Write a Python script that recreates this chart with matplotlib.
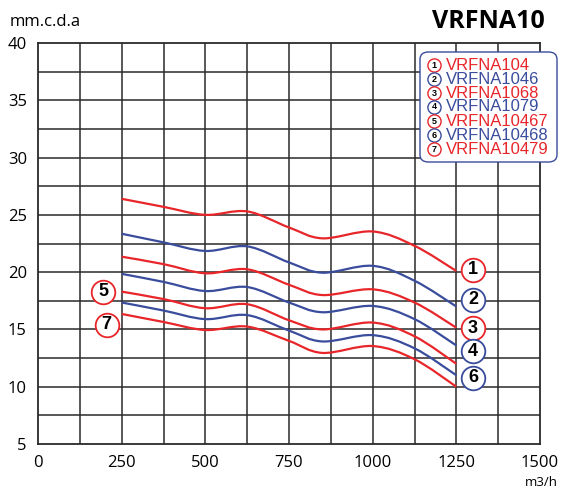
import numpy as np
import matplotlib
matplotlib.use('Agg')
import matplotlib.pyplot as plt
from matplotlib.path import Path
from matplotlib.patches import PathPatch, FancyBboxPatch
from matplotlib.lines import Line2D

# data
flow = [250, 375, 500, 625, 750, 850, 1000, 1125, 1250]
c1 = [26.4, 25.7, 25.0, 25.3, 23.9, 22.95, 23.55, 22.3, 20.1]
c2 = [23.35, 22.6, 21.85, 22.25, 20.85, 19.95, 20.55, 19.25, 17.0]
c3 = [21.35, 20.7, 19.9, 20.25, 18.9, 18.0, 18.5, 17.35, 15.15]
c4 = [19.85, 19.15, 18.35, 18.7, 17.35, 16.5, 17.05, 15.9, 13.6]
c5 = [18.3, 17.65, 16.85, 17.2, 15.8, 15.0, 15.6, 14.4, 12.0]
c6 = [17.35, 16.65, 15.9, 16.25, 14.9, 13.95, 14.5, 13.35, 11.0]
c7 = [16.35, 15.65, 14.95, 15.25, 14.0, 12.95, 13.55, 12.4, 10.0]
curves = [c1, c2, c3, c4, c5, c6, c7]

models = ['VRFNA104', 'VRFNA1046', 'VRFNA1068', 'VRFNA1079',
          'VRFNA10467', 'VRFNA10468', 'VRFNA10479']
tag_nums = ['1', '2', '3', '4', '6', '5', '7']
tag_x = [1300, 1300, 1300, 1300, 1300, 195, 205]
tag_y = [20.2, 17.6, 15.1, 13.1, 10.8, 18.3, 15.4]

RED = '#e8262a'
BLUE = '#3a4c9c'
colors = [RED if i % 2 == 0 else BLUE for i in range(7)]


def smooth_path(xs, ys):
    # Catmull-Rom through the read points, drawn as cubic Bezier segments
    pts = np.column_stack([xs, ys]).astype(float)
    ext = np.vstack([pts[0], pts, pts[-1]])
    verts = [pts[0]]
    codes = [Path.MOVETO]
    for i in range(1, len(ext) - 2):
        p0, p1, p2, p3 = ext[i - 1], ext[i], ext[i + 1], ext[i + 2]
        verts += [p1 + (p2 - p0) / 6, p2 - (p3 - p1) / 6, p2]
        codes += [Path.CURVE4] * 3
    return Path(verts, codes)


fig = plt.figure(figsize=(5.63, 4.88), dpi=100)
ax = fig.add_axes([38 / 563, 1 - 444 / 488, 502 / 563, 401 / 488])
ax.set_xlim(0, 1500)
ax.set_ylim(5, 40)

for gx in np.arange(125, 1500, 125):
    ax.axvline(gx, color='#2a2a2a', lw=1.1, zorder=1)
for gy in np.arange(7.5, 40, 2.5):
    ax.axhline(gy, color='#2a2a2a', lw=1.1, zorder=1)

for ys, col in zip(curves, colors):
    ax.add_patch(PathPatch(smooth_path(flow, ys), fill=False, edgecolor=col,
                           lw=1.6, zorder=3))

tag_cols = [RED, BLUE, RED, BLUE, BLUE, RED, RED]
for n, x, y, col in zip(tag_nums, tag_x, tag_y, tag_cols):
    ax.plot(x, y, 'o', ms=17, mfc='white', mec=col, mew=1.3, zorder=5,
            clip_on=False)
    ax.text(x, y, n, ha='center', va='center', fontsize=13, fontweight='bold',
            family='Liberation Sans', zorder=6, clip_on=False)

ax.set_xticks([0, 250, 500, 750, 1000, 1250, 1500])
ax.set_yticks([5, 10, 15, 20, 25, 30, 35, 40])
ax.tick_params(length=0, labelsize=12, pad=8)
for lab in ax.get_xticklabels() + ax.get_yticklabels():
    lab.set_family('Open Sans')
for s in ax.spines.values():
    s.set_color('#2a2a2a')
    s.set_linewidth(1.3)

fig.text(10 / 563, 1 - 22 / 488, 'mm.c.d.a', fontsize=12, family='Open Sans',
         va='center', ha='left')
fig.text(545 / 563, 1 - 22 / 488, 'VRFNA10', fontsize=18, family='Open Sans',
         fontweight='bold', va='center', ha='right')
fig.text(558 / 563, 1 - 482 / 488, 'm3/h', fontsize=9.5, family='Open Sans',
         va='center', ha='right')

# legend box drawn by hand
box = FancyBboxPatch((420 / 563, 1 - 162 / 488), 137 / 563, 110 / 488,
                     boxstyle='round,pad=0,rounding_size=0.015',
                     transform=fig.transFigure, facecolor='white',
                     edgecolor=BLUE, lw=1.0, zorder=10)
fig.add_artist(box)
row_y = [65, 79, 93, 107, 121, 135, 149]
for i, (name, col) in enumerate(zip(models, colors)):
    yy = 1 - row_y[i] / 488
    fig.add_artist(Line2D([434 / 563], [yy], marker='o', ms=9.5, mfc='white',
                          mec=col, mew=1.0, transform=fig.transFigure,
                          zorder=11))
    fig.text(434 / 563, yy, str(i + 1), fontsize=6.5, fontweight='bold',
             ha='center', va='center', zorder=12, family='Liberation Sans')
    fig.text(446 / 563, yy, name, fontsize=12, color=col,
             family='Liberation Sans', ha='left', va='center', zorder=12)

fig.savefig('out.png', dpi=100)
